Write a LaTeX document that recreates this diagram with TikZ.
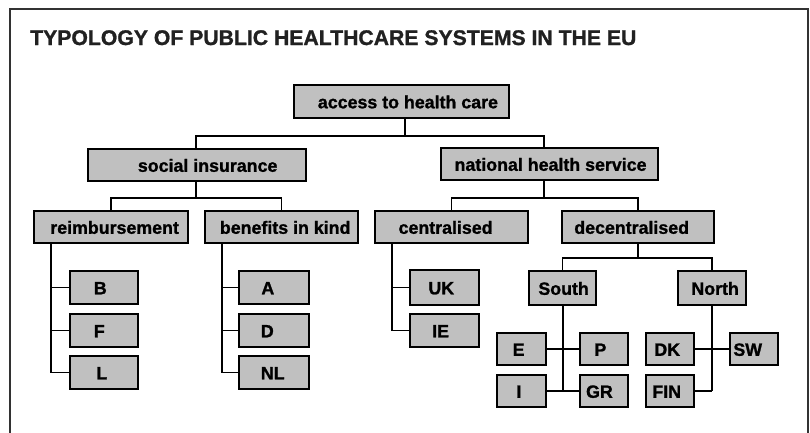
\documentclass[tikz,border=0pt]{standalone}
\usepackage{fontspec}
\setmainfont{Liberation Sans}[BoldFeatures={FakeBold=1.2}]
\definecolor{boxgray}{RGB}{192,192,192}
\definecolor{framegray}{RGB}{50,50,50}
\begin{document}
\begin{tikzpicture}[x=1pt,y=-1pt,
  box/.style={draw=black, line width=1.6pt, fill=boxgray, rectangle, inner sep=0pt},
  txt/.style={anchor=base west, inner sep=0pt, yshift=-6.8pt,
    font=\bfseries\fontsize{17.8}{20}\selectfont, text=black},
  conn/.style={draw=black, line width=1.5pt},
  frame/.style={draw=framegray, line width=2pt}]
\useasboundingbox (0,0) rectangle (810,432);

% outer frame (open at the bottom edge)
\draw[frame] (9.5,440) -- (9.5,9) -- (808,9) -- (808,440);

% title
\node[anchor=base west, inner sep=0pt, text=black!87,
  font=\bfseries\fontsize{21.2}{24}\selectfont] (title) at (30,45)
  {TYPOLOGY OF PUBLIC HEALTHCARE SYSTEMS IN THE EU};

% level 1
\node[box, minimum width=215, minimum height=33,
  label={[txt,xshift=24.5pt]west:access to health care}] (acc) at (401.5,101.5) {};

% level 2
\node[box, minimum width=218, minimum height=32,
  label={[txt,xshift=50.5pt]west:social insurance}] (si) at (197,165) {};
\node[box, minimum width=217, minimum height=32,
  label={[txt,xshift=14.2pt]west:national health service}] (nhs) at (549.5,164) {};

% level 3
\node[box, minimum width=154, minimum height=32,
  label={[txt,xshift=16.9pt]west:reimbursement}] (reimb) at (111,227) {};
\node[box, minimum width=153, minimum height=32,
  label={[txt,xshift=15.5pt]west:benefits in kind}] (bik) at (281.5,227) {};
\node[box, minimum width=153, minimum height=32,
  label={[txt,xshift=24.2pt]west:centralised}] (cen) at (451.5,227) {};
\node[box, minimum width=152, minimum height=32,
  label={[txt,xshift=12.9pt]west:decentralised}] (dec) at (638,227) {};

% countries: reimbursement
\node[box, minimum width=68, minimum height=33,
  label={[txt,xshift=24.5pt]west:B}] (B) at (104,287.5) {};
\node[box, minimum width=68, minimum height=33,
  label={[txt,xshift=24.5pt]west:F}] (F) at (104,330.5) {};
\node[box, minimum width=68, minimum height=33,
  label={[txt,xshift=27pt]west:L}] (L) at (104,372.5) {};

% countries: benefits in kind
\node[box, minimum width=70, minimum height=33,
  label={[txt,xshift=23pt]west:A}] (A) at (274,287.5) {};
\node[box, minimum width=70, minimum height=33,
  label={[txt,xshift=22.5pt]west:D}] (D) at (274,330.5) {};
\node[box, minimum width=70, minimum height=33,
  label={[txt,xshift=22.5pt]west:NL}] (NL) at (274,372.5) {};

% countries: centralised
\node[box, minimum width=69, minimum height=35,
  label={[txt,xshift=19pt]west:UK}] (UK) at (444.5,287.5) {};
\node[box, minimum width=69, minimum height=33,
  label={[txt,xshift=22.8pt]west:IE}] (IE) at (444.5,330.5) {};

% decentralised regions
\node[box, minimum width=67, minimum height=34,
  label={[txt,xshift=10pt]west:South}] (south) at (562.5,288) {};
\node[box, minimum width=68, minimum height=34,
  label={[txt,xshift=14pt]west:North}] (north) at (712,288) {};

% countries: South
\node[box, minimum width=49, minimum height=32,
  label={[txt,xshift=16.3pt]west:E}] (E) at (521.5,349) {};
\node[box, minimum width=48, minimum height=32,
  label={[txt,xshift=15pt]west:P}] (P) at (604,349) {};
\node[box, minimum width=49, minimum height=32,
  label={[txt,xshift=20pt]west:I}] (I) at (521.5,391) {};
\node[box, minimum width=48, minimum height=32,
  label={[txt,xshift=6.7pt]west:GR}] (GR) at (604,391) {};

% countries: North
\node[box, minimum width=48, minimum height=32,
  label={[txt,xshift=9pt]west:DK}] (DK) at (670,349) {};
\node[box, minimum width=48, minimum height=32,
  label={[txt,xshift=4pt]west:SW}] (SW) at (754,349) {};
\node[box, minimum width=48, minimum height=32,
  label={[txt,xshift=7pt]west:FIN}] (FIN) at (670,391) {};

% tree connectors: upper levels
\draw[conn] ([xshift=3.5pt]acc.south) -- ++(0,17) coordinate (accbar);
\draw[conn] ([xshift=-1pt]si.north) |- (accbar) -| ([xshift=-5.5pt]nhs.north);
\draw[conn] ([xshift=-1pt]si.south) -- ++(0,16) coordinate (sibar);
\draw[conn] (reimb.north) |- (sibar) -| (bik.north);
\draw[conn] ([xshift=-5.5pt]nhs.south) -- ++(0,17) coordinate (nhsbar);
\draw[conn] (cen.north) |- (nhsbar) -| (dec.north);
\draw[conn] (dec.south) -- ++(0,14) coordinate (decbar);
\draw[conn] (south.north) |- (decbar) -| (north.north);

% country lists hanging from a vertical trunk
\draw[conn] (reimb.south west) ++(18,0) coordinate (rt) |- (L.west);
\draw[conn] (B.west) -- (B.west -| rt);
\draw[conn] (F.west) -- (F.west -| rt);

\draw[conn] (bik.south west) ++(18,0) coordinate (bt) |- (NL.west);
\draw[conn] (A.west) -- (A.west -| bt);
\draw[conn] (D.west) -- (D.west -| bt);

\draw[conn] (cen.south west) ++(18,0) coordinate (ct) |- (IE.west);
\draw[conn] (UK.west) -- (UK.west -| ct);

% South and North groups
\draw[conn, line width=2pt] (south.south) -- (south.south |- GR.west);
\draw[conn] (E.east) -- (P.west);
\draw[conn] (I.east) -- (GR.west);
\draw[conn, line width=2pt] (north.south) -- (north.south |- FIN.east);
\draw[conn] (DK.east) -- (SW.west);
\draw[conn] (FIN.east) -- (FIN.east -| north.south);
\end{tikzpicture}
\end{document}
